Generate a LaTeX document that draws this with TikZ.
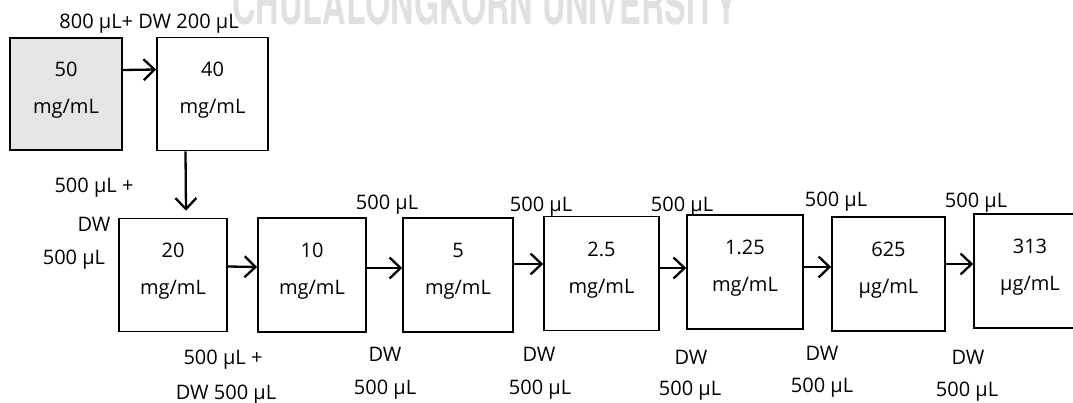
\documentclass[tikz,border=0pt]{standalone}
\usepackage{fontspec}
\setmainfont{Open Sans}
\newfontfamily\markfont{TeX Gyre Heros}
\usetikzlibrary{arrows.meta,positioning}
\tikzstyle{conc} = [rectangle, draw, line width=1.6pt, minimum width=112pt, minimum height=114pt, align=center, font=\fontsize{20}{37}\selectfont]
\tikzstyle{vol} = [inner sep=0pt, font=\fontsize{20}{24}\selectfont]
\tikzstyle{line} = [draw, line width=2.3pt, -{Straight Barb[length=11pt,width=21pt]}]
\tikzstyle{wmark} = [anchor=base west, inner sep=0pt, text=black!12, font=\markfont\bfseries\fontsize{55}{55}\selectfont]

% value on top, unit below, lifted a little inside the box
\newcommand{\stock}[2]{#1\\#2\rule[-12pt]{0pt}{12pt}}

\begin{document}
\begin{tikzpicture}[x=1pt, y=-1pt]
\useasboundingbox[fill=white] (0,0) rectangle (1073,403);
\clip (0,0) rectangle (1073,403);

\node [wmark] (wm) at (232,25) {\scalebox{0.59}[1]{CHULALONGKORN UNIVERSITY}};

% stock and first dilution
\node [conc, fill=black!10, minimum width=112pt, minimum height=112pt] (c50) at (66,94) {\stock{50}{mg/mL}};
\node [conc, right of=c50, node distance=146.5pt, minimum width=111pt, minimum height=113pt] (c40) {\stock{40}{mg/mL}};
\path [line] ([yshift=24pt]c50.east) to ([yshift=24.5pt]c40.west);
\node [vol] (v40) at (149,24) {800 µL+ DW 200 µL};

% serial twofold dilutions
\node [conc, below of=c40, node distance=181pt, xshift=-39.5pt, minimum width=108pt, minimum height=113pt] (c20) {\stock{20}{mg/mL}};
\path [line] ([xshift=-27pt]c40.south) to ([xshift=13pt, yshift=7pt]c20.north);
\node [vol] (v20a) at (94,188) {500 µL +};
\node [vol] (v20b) at (94,224) {DW};
\node [vol] (v20c) at (74,260) {500 µL};

\node [conc, right of=c20, node distance=139pt, minimum width=108pt] (c10) {\stock{10}{mg/mL}};
\path [line] ([yshift=8.5pt]c20.east) to ([yshift=8pt]c10.west);
\node [vol] (v10a) at (223,360) {500 µL +};
\node [vol] (v10b) at (226,395) {DW 500 µL};

\node [conc, right of=c10, node distance=146pt, minimum width=110pt] (c5) {\stock{5}{mg/mL}};
\path [line] ([yshift=7pt]c10.east) to ([yshift=7pt]c5.west);
\node [vol] (v5t) at (387,205) {500 µL};
\node [vol] (v5a) at (385,354) {DW};
\node [vol] (v5b) at (385,390) {500 µL};

\node [conc, right of=c5, node distance=143.5pt, yshift=1.5pt, minimum width=115pt] (c25) {\stock{2.5}{mg/mL}};
\path [line] ([yshift=11pt]c5.east) to ([yshift=9.5pt]c25.west);
\node [vol] (v25t) at (541,207) {500 µL};
\node [vol] (v25a) at (539,354) {DW};
\node [vol] (v25b) at (540,390) {500 µL};

\node [conc, right of=c25, node distance=143.5pt, yshift=1.5pt, minimum width=116pt] (c125) {\stock{1.25}{mg/mL}};
\path [line] ([yshift=5.5pt]c25.east) to ([yshift=4pt]c125.west);
\node [vol] (v125t) at (682,207) {500 µL};
\node [vol] (v125a) at (691,357) {DW};
\node [vol] (v125b) at (690,391) {500 µL};

\node [conc, right of=c125, node distance=143.5pt, yshift=-2pt, minimum width=113pt] (c625) {\stock{625}{µg/mL}};
\path [line] ([yshift=5pt]c125.east) to ([yshift=7pt]c625.west);
\node [vol] (v625t) at (836,202) {500 µL};
\node [vol] (v625a) at (822,353) {DW};
\node [vol] (v625b) at (822,388) {500 µL};

\node [conc, right of=c625, node distance=141.5pt, yshift=3pt] (c313) {\stock{313}{µg/mL}};
\path [line] ([yshift=10pt]c625.east) to ([yshift=7pt]c313.west);
\node [vol] (v313t) at (976,203) {500 µL};
\node [vol] (v313a) at (968,357) {DW};
\node [vol] (v313b) at (967,392) {500 µL};

\end{tikzpicture}
\end{document}
